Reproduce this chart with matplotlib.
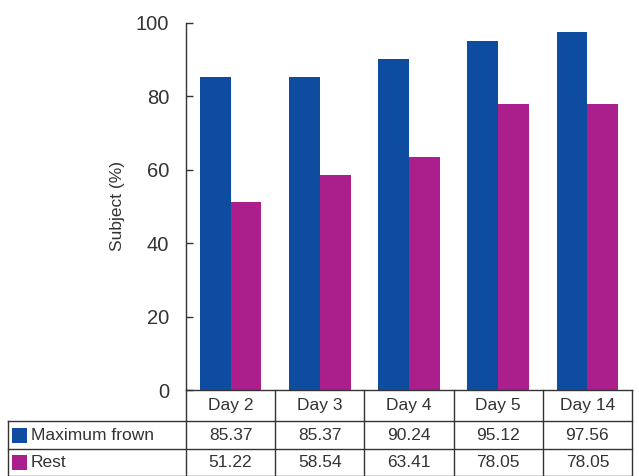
import matplotlib
matplotlib.use("Agg")
import matplotlib.pyplot as plt
from matplotlib.patches import Rectangle
import numpy as np

categories = ["Day 2", "Day 3", "Day 4", "Day 5", "Day 14"]
series_names = ["Maximum frown", "Rest"]
max_frown = [85.37, 85.37, 90.24, 95.12, 97.56]
rest = [51.22, 58.54, 63.41, 78.05, 78.05]
yticks = [0, 20, 40, 60, 80, 100]

colors = ["#0E4C9F", "#AB1F8D"]
txt = "#333333"
fam = ["Liberation Sans Narrow", "Liberation Sans", "DejaVu Sans"]

W, H = 639, 476
fig = plt.figure(figsize=(W / 100, H / 100), dpi=100)

ax_l, ax_r, ax_t, ax_b = 186, 632, 23, 390
ax = fig.add_axes([ax_l / W, 1 - ax_b / H, (ax_r - ax_l) / W, (ax_b - ax_t) / H])

x = np.arange(len(categories))
bw = 0.345
ax.bar(x - bw / 2, max_frown, bw, color=colors[0])
ax.bar(x + bw / 2, rest, bw, color=colors[1])
ax.set_xlim(-0.5, len(categories) - 0.5)
ax.set_ylim(0, 100)
ax.set_yticks(yticks)
ax.set_yticklabels([str(t) for t in yticks], fontsize=14.5, color=txt, family=fam)
ax.tick_params(axis="y", direction="in", length=5, width=1, color=txt, pad=12)
ax.set_xticks([])
for s in ["top", "right", "bottom"]:
    ax.spines[s].set_visible(False)
ax.spines["left"].set_color(txt)
ax.spines["left"].set_linewidth(1)
ax.set_ylabel("Subject (%)", fontsize=12.5, color=txt, family=fam, labelpad=8)

# table
tl, tt, tb = 8, 390, 476
row_h = [31, 28, 27]
col_w = (ax_r - ax_l) / len(categories)
lw = 1.0
ec = "#333333"

def fx(px):
    return px / W

def fy(py):
    return 1 - py / H

# header row
y0 = tt
y1 = tt + row_h[0]
fig.add_artist(plt.Line2D([fx(ax_l), fx(ax_r)], [fy(y0), fy(y0)], color=ec, lw=lw))
for i, c in enumerate(categories):
    cx = ax_l + col_w * (i + 0.5)
    fig.text(fx(cx), fy((y0 + y1) / 2), c, ha="center", va="center",
             fontsize=12.5, color=txt, family=fam)

# horizontal lines
ys = [tt, tt + row_h[0], tt + row_h[0] + row_h[1], tb - 0.5]
for k, yy in enumerate(ys[1:]):
    fig.add_artist(plt.Line2D([fx(tl), fx(ax_r)], [fy(yy), fy(yy)], color=ec, lw=lw))
# vertical lines
fig.add_artist(plt.Line2D([fx(tl), fx(tl)], [fy(ys[1]), fy(tb)], color=ec, lw=lw))
for i in range(len(categories) + 1):
    xx = ax_l + col_w * i
    fig.add_artist(plt.Line2D([fx(xx), fx(xx)], [fy(tt), fy(tb)], color=ec, lw=lw))

data_rows = [max_frown, rest]
for r, (name, vals) in enumerate(zip(series_names, data_rows)):
    ya = ys[r + 1]
    yb = ys[r + 2] if r + 2 < len(ys) else tb
    cy = (ya + yb) / 2
    fig.add_artist(Rectangle((fx(12), fy(cy + 8)), 15 / W, 15 / H,
                             transform=fig.transFigure, color=colors[r], lw=0))
    fig.text(fx(31), fy(cy), name, ha="left", va="center",
             fontsize=12.5, color=txt, family=fam)
    for i, v in enumerate(vals):
        cx = ax_l + col_w * (i + 0.5)
        fig.text(fx(cx), fy(cy), f"{v:.2f}", ha="center", va="center",
                 fontsize=12.5, color=txt, family=fam)

fig.savefig("out.png", dpi=100)
